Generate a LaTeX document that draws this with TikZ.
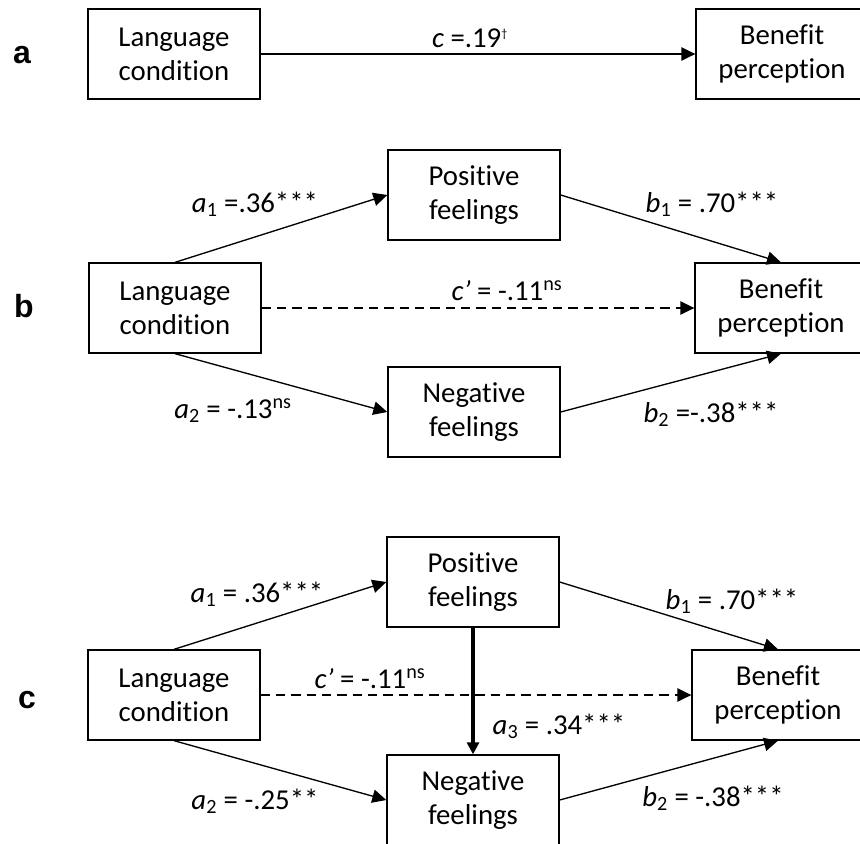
\documentclass[tikz,border=0pt]{standalone}
\usepackage{fontspec}
\setmainfont[Ligatures={NoCommon}]{Carlito}
\newfontfamily\panelfont{Liberation Sans}
\usetikzlibrary{arrows.meta}
\begin{document}
\begin{tikzpicture}[x=0.75pt,y=-0.75pt,
  every node/.style={font=\fontsize{21.6}{25.5}\selectfont},
  varbox/.style={draw,line width=1pt,minimum width=129pt,minimum height=67.5pt,inner sep=0pt,align=center},
  conn/.style={line width=1pt,-{Triangle[length=10.5pt,width=10pt]}},
  dconn/.style={conn,dash pattern=on 7pt off 4.5pt},
  thickconn/.style={line width=2.4pt,-{Triangle[length=9pt,width=9pt]}},
  lbl/.style={inner sep=0pt},
  panel/.style={font=\panelfont\bfseries\fontsize{24}{28}\selectfont,anchor=base,inner sep=0pt}]
\useasboundingbox (0,0) rectangle (860,843);
\clip (0,0) rectangle (860,843);
\fill[white] (0,0) rectangle (860,843);

% panel a
\node[panel] (pa) at (22,63) {a};
\node[varbox] (la) at (174,54) {Language\\condition};
\node[varbox] (ba) at (782,54) {Benefit\\perception};
\draw[conn] (la) -- (ba);
\node[lbl] (ca) at (470,38) {\textit{c} =.19\textsuperscript{\fontsize{9}{9}\selectfont †}};

% panel b
\node[panel] (pb0) at (24,317) {b};
\node[varbox] (lb) at (175,308) {Language\\condition};
\node[varbox] (pb) at (474,195) {Positive\\feelings};
\node[varbox] (nb) at (474,412) {Negative\\feelings};
\node[varbox] (bb) at (781,308) {Benefit\\perception};
\draw[conn] (lb.north) -- (pb.west);
\draw[conn] (lb.south) -- (nb.west);
\draw[conn] (pb.east) -- (bb.north);
\draw[conn] (nb.east) -- (bb.south);
\draw[dconn] (lb.east) -- (bb.west);
\node[lbl] (a1b) at (255,204) {\textit{a}\textsubscript{1} =.36***};
\node[lbl] (a2b) at (233,411) {\textit{a}\textsubscript{2} = -.13\textsuperscript{ns}};
\node[lbl] (cpb) at (507,291) {\textit{c’} = -.11\textsuperscript{ns}};
\node[lbl] (b1b) at (712,204) {\textit{b}\textsubscript{1} = .70***};
\node[lbl] (b2b) at (711,414) {\textit{b}\textsubscript{2} =-.38***};

% panel c
\node[panel] (pc0) at (27,708) {c};
\node[varbox] (lc) at (174,695) {Language\\condition};
\node[varbox] (pc) at (473,582) {Positive\\feelings};
\node[varbox] (nc) at (473,800) {Negative\\feelings};
\node[varbox] (bc) at (778,695) {Benefit\\perception};
\draw[conn] (lc.north) -- (pc.west);
\draw[conn] (lc.south) -- (nc.west);
\draw[conn] (pc.east) -- (bc.north);
\draw[conn] (nc.east) -- (bc.south);
\draw[dconn] (lc.east) -- (bc.west);
\draw[thickconn] (pc.south) -- (nc.north);
\node[lbl] (a1c) at (257,594) {\textit{a}\textsubscript{1} = .36***};
\node[lbl] (cpc) at (370,679) {\textit{c’} = -.11\textsuperscript{ns}};
\node[lbl] (a3c) at (559,726) {\textit{a}\textsubscript{3} = .34***};
\node[lbl] (a2c) at (255,801) {\textit{a}\textsubscript{2} = -.25**};
\node[lbl] (b1c) at (732,601) {\textit{b}\textsubscript{1} = .70***};
\node[lbl] (b2c) at (713,798) {\textit{b}\textsubscript{2} = -.38***};
\end{tikzpicture}
\end{document}
